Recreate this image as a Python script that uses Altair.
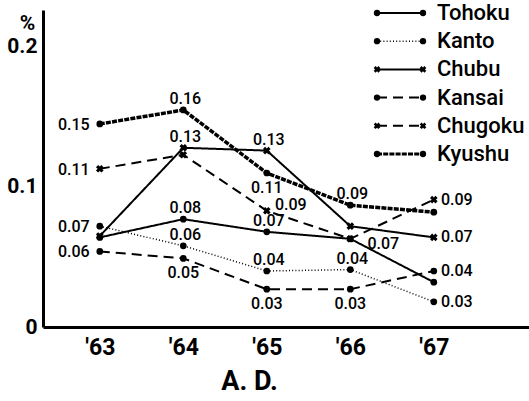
import altair as alt
import pandas as pd

years = [63, 64, 65, 66, 67]
regions = ["Tohoku", "Kanto", "Chubu", "Kansai", "Chugoku", "Kyushu"]

tohoku = [0.064, 0.077, 0.068, 0.063, 0.032]
kanto = [0.072, 0.058, 0.040, 0.041, 0.018]
chubu = [0.065, 0.128, 0.126, 0.072, 0.064]
kansai = [0.054, 0.049, 0.027, 0.027, 0.040]
chugoku = [0.113, 0.123, 0.083, 0.063, 0.091]
kyushu = [0.145, 0.155, 0.110, 0.087, 0.082]

series = {"Tohoku": tohoku, "Kanto": kanto, "Chubu": chubu,
          "Kansai": kansai, "Chugoku": chugoku, "Kyushu": kyushu}

# printed value labels per point ("" = no label) and where they sit
labels = {
    "Tohoku": ["", "0.08", "0.07", "0.07", ""],
    "Kanto": ["0.07", "0.06", "0.04", "0.04", "0.03"],
    "Chubu": ["", "0.13", "0.13", "", "0.07"],
    "Kansai": ["0.06", "0.05", "0.03", "0.03", "0.04"],
    "Chugoku": ["0.11", "", "0.09", "", "0.09"],
    "Kyushu": ["0.15", "0.16", "0.11", "0.09", ""],
}
places = {
    "Tohoku": ["", "above", "above", "farright", ""],
    "Kanto": ["left", "above", "above", "above", "right"],
    "Chubu": ["", "above", "above", "", "right"],
    "Kansai": ["left", "below", "below", "below", "right"],
    "Chugoku": ["left", "", "upright", "", "right"],
    "Kyushu": ["left", "above", "below", "above", ""],
}

cross_regions = ["Chubu", "Chugoku"]
dot_regions = ["Tohoku", "Kanto", "Kansai", "Kyushu"]

rows = []
for r in regions:
    for i, y in enumerate(years):
        rows.append({"region": r, "year": y, "value": series[r][i],
                     "label": labels[r][i], "place": places[r][i]})
df = pd.DataFrame(rows)
leg_df = pd.DataFrame({"region": regions})

FONT = "Roboto"

x_enc = alt.X("year:Q",
              scale=alt.Scale(domain=[62.32, 68.14], nice=False, zero=False),
              axis=alt.Axis(values=years, labelExpr="\"'\" + datum.value",
                            title="A. D.", grid=False, ticks=False,
                            labelFont=FONT, labelFontSize=23, labelFontWeight="bold",
                            labelPadding=9, labelBaseline="top",
                            titleFont=FONT, titleFontSize=27, titleFontWeight="bold",
                            titleX=206, titleY=54, titleBaseline="middle",
                            titleAlign="center",
                            domainWidth=3, domainColor="black", labelColor="black",
                            titleColor="black"))
y_enc = alt.Y("value:Q",
              scale=alt.Scale(domain=[0, 0.2264], nice=False),
              axis=alt.Axis(values=[0, 0.1, 0.2],
                            labelExpr="datum.value == 0 ? '0' : format(datum.value, '.1f')",
                            title="%", titleAngle=0, titleX=-16, titleY=13,
                            titleAlign="center", titleBaseline="middle",
                            titleFont=FONT, titleFontSize=21, titleFontWeight="bold",
                            grid=False, ticks=False,
                            labelFont=FONT, labelFontSize=21, labelFontWeight="bold",
                            labelPadding=6,
                            domainWidth=3, domainColor="black", labelColor="black",
                            titleColor="black"))

dash_scale = alt.Scale(domain=regions,
                       range=[[1, 0], [1, 2.2], [1, 0], [10, 6], [10, 6], [5, 1.2]])
width_cond = alt.StrokeWidthValue(2, condition=[
    {"test": "datum.region === 'Kyushu'", "value": 3.5},
    {"test": "datum.region === 'Kanto'", "value": 1.5},
])

base = alt.Chart(df)

lines = base.mark_line(color="black").encode(
    x=x_enc, y=y_enc,
    strokeDash=alt.StrokeDash("region:N", scale=dash_scale, legend=None),
    strokeWidth=width_cond,
)

dots = base.transform_filter(
    alt.FieldOneOfPredicate(field="region", oneOf=dot_regions)
).mark_point(shape="circle", filled=True, size=45, color="black", opacity=1).encode(x="year:Q", y="value:Q")

crosses = base.transform_filter(
    alt.FieldOneOfPredicate(field="region", oneOf=cross_regions)
).mark_point(shape="cross", angle=45, filled=True, size=60, color="black", opacity=1).encode(x="year:Q", y="value:Q")

offsets = {
    "left": (-26, 1),
    "above": (2, -11),
    "below": (0, 15),
    "right": (23, 0),
    "upright": (24, -6),
    "farright": (33, 5),
}

text_layers = []
for p, (dx, dy) in offsets.items():
    text_layers.append(
        base.transform_filter(alt.datum.place == p).mark_text(
            dx=dx, dy=dy, font=FONT, fontSize=16, fontWeight=500, color="black",
            align="center", baseline="middle"
        ).encode(x="year:Q", y="value:Q", text="label:N")
    )

main = alt.layer(lines, dots, crosses, *text_layers)

# hand-built legend (top right)
lbase = alt.Chart(leg_df)
ly = alt.Y("region:N", scale=alt.Scale(type="point", domain=regions, range=[3, 144], padding=0),
           axis=None)
leg_lines = lbase.mark_rule(color="black").encode(
    y=ly, x=alt.value(334), x2=alt.value(380),
    strokeDash=alt.StrokeDash("region:N", scale=dash_scale, legend=None),
    strokeWidth=alt.StrokeWidthValue(2, condition=[
        {"test": "datum.region === 'Kyushu'", "value": 3},
        {"test": "datum.region === 'Kanto'", "value": 1.5},
    ]),
)
leg_dots_l = lbase.transform_filter(
    alt.FieldOneOfPredicate(field="region", oneOf=dot_regions)
).mark_point(shape="circle", filled=True, size=40, color="black", opacity=1).encode(y=ly, x=alt.value(334))
leg_dots_r = lbase.transform_filter(
    alt.FieldOneOfPredicate(field="region", oneOf=dot_regions)
).mark_point(shape="circle", filled=True, size=40, color="black", opacity=1).encode(y=ly, x=alt.value(380))
leg_x_l = lbase.transform_filter(
    alt.FieldOneOfPredicate(field="region", oneOf=cross_regions)
).mark_point(shape="cross", angle=45, filled=True, size=45, color="black", opacity=1).encode(y=ly, x=alt.value(334))
leg_x_r = lbase.transform_filter(
    alt.FieldOneOfPredicate(field="region", oneOf=cross_regions)
).mark_point(shape="cross", angle=45, filled=True, size=45, color="black", opacity=1).encode(y=ly, x=alt.value(380))
leg_text = lbase.mark_text(align="left", baseline="middle", font=FONT, fontSize=22,
                           fontWeight=500, color="black").encode(
    y=ly, x=alt.value(394), text="region:N")

legend = alt.layer(leg_lines, leg_dots_l, leg_dots_r, leg_x_l, leg_x_r, leg_text)

chart = alt.layer(main, legend).resolve_scale(y="independent").properties(
    width=486, height=317,
    autosize=alt.AutoSizeParams(type="none"),
    padding={"left": 43, "top": 10, "right": 0, "bottom": 74},
    background="white",
).configure_view(stroke=None)

chart.save("out.html", embed_options={"renderer": "svg", "actions": False})
